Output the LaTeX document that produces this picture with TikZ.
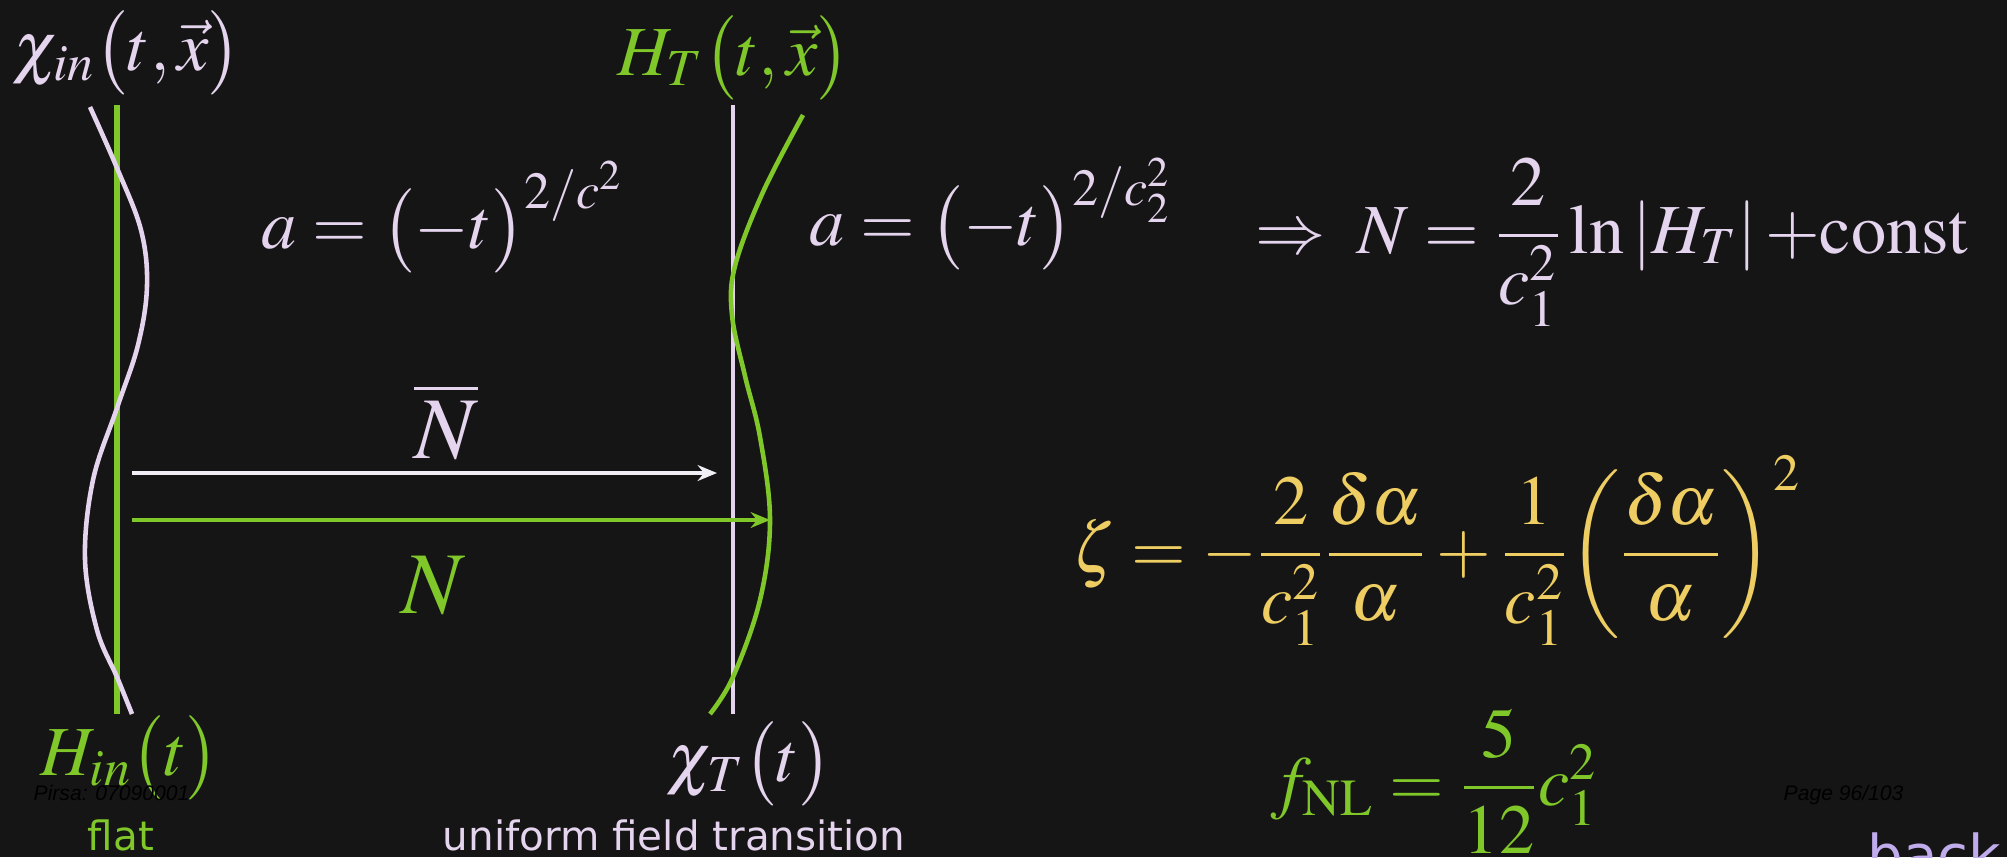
\documentclass[tikz,border=0pt]{standalone}
\usepackage{amsmath}
\usepackage{mathptmx}
\usepackage[no-math]{fontspec}
\newfontfamily\dejavu{DejaVu Sans}
\newfontfamily\arialish{Liberation Sans}
\usetikzlibrary{arrows.meta,positioning}
\usepackage{xcolor}
\definecolor{cSlate}{RGB}{22,21,21}
\definecolor{cLav}{RGB}{228,212,238}
\definecolor{cLime}{RGB}{128,200,42}
\definecolor{cGold}{RGB}{238,206,98}
\definecolor{cSnow}{RGB}{242,238,246}
\definecolor{cViolet}{RGB}{192,172,236}
\tikzset{
  eqbase/.style={inner sep=0pt,font=\fontsize{20}{24}\selectfont},
  laveq/.style={eqbase,text=cLav},
  limeeq/.style={eqbase,text=cLime},
  goldeq/.style={eqbase,text=cGold},
  fieldlbl/.style={inner sep=0pt,font=\fontsize{20}{24}\selectfont},
  bigeq/.style={inner sep=0pt,font=\fontsize{25}{30}\selectfont},
  captxt/.style={inner sep=0pt,font=\dejavu\fontsize{11.5}{14}\selectfont},
  stamp/.style={inner sep=0pt,font=\arialish\itshape\fontsize{6}{7}\selectfont,text=black},
  lavline/.style={color=cLav,line width=1.3pt},
  limeline/.style={color=cLime,line width=1.5pt},
  arr/.style={->,>={Stealth[length=5.5pt,width=4.5pt]},line width=0.9pt},
  whtarr/.style={arr,color=cSnow},
  grnarr/.style={arr,color=cLime}
}

\begin{document}
\begin{tikzpicture}[x=0.01cm,y=-0.01cm]
  \fill[cSlate] (0,0) rectangle (2007,857);
  \useasboundingbox (0,0) rectangle (2007,857);

  % the two slices
  \coordinate (lTop) at (117,105);
  \coordinate (lBot) at (117,714);
  \coordinate (rTop) at (733,105);
  \coordinate (rBot) at (733,714);
  \draw[limeline] (lTop) -- (lBot);
  \draw[lavline] plot[smooth,tension=0.6] coordinates
    {(90,107) (117,168) (141,230) (147,286) (138,345) (117,408)
     (93,480) (85,559) (97,630) (117,677) (132,714)};
  \draw[lavline] (rTop) -- (rBot);
  \draw[limeline,line width=1.3pt] plot[smooth,tension=0.6] coordinates
    {(803,115) (763,192) (735,266) (732,315) (745,376) (760,437)
     (770,520) (760,600) (733,677) (710,714)};

  % field labels
  \node[fieldlbl,text=cLav,anchor=base west] (chiin) at (12,70)
      {$\chi_{in}\bigl(t{,}\,\vec{x}\bigr)$};
  \node[fieldlbl,text=cLime,anchor=base west] (hT) at (617,75)
      {$H_T\bigl(t{,}\,\vec{x}\bigr)$};
  \node[fieldlbl,text=cLime,anchor=base west] (hin) at (40,775)
      {$H_{in}\bigl(t\bigr)$};
  \node[fieldlbl,text=cLav,anchor=base west] (chiT) at (666,781)
      {$\chi_T\bigl(t\bigr)$};
  \node[captxt,text=cLime,anchor=base] (flat) at (121,850) {flat};
  \node[captxt,text=cLav,anchor=base] (uft) at (674,850)
      {uniform field transition};

  % expansion laws
  \node[laveq,anchor=base west] (aIn) at (261,248)
      {$a=\bigl(-t\bigr)^{2/c^2}$};
  \node[laveq,anchor=base west] (aT) at (809,245)
      {$a=\bigl(-t\bigr)^{2/c_2^2}$};
  \node[laveq,anchor=base west] (nEq) at (1255,253)
      {$\Rightarrow\;N=\dfrac{2}{c_1^2}\ln\,\lvert H_T\rvert\,{+}\mathrm{const}$};

  % e-folds
  \coordinate (nbarL) at (132,473);
  \coordinate (nbarR) at (717,473);
  \coordinate (nL) at (132,520);
  \coordinate (nR) at (770,520);
  \draw[whtarr] (nbarL) -- (nbarR);
  \draw[grnarr] (nL) -- (nR);
  \node[bigeq,text=cLav,anchor=base] (nbar) at (446,458) {$\overline{N}$};
  \node[bigeq,text=cLime,anchor=base] (nlbl) at (433,613) {$N$};

  % curvature perturbation
  \node[goldeq,anchor=base west] (zeta) at (1072,572)
      {$\zeta=-\dfrac{2}{c_1^2}\dfrac{\delta\alpha}{\alpha}
        +\dfrac{1}{c_1^2}\biggl(\dfrac{\delta\alpha}{\alpha}\biggr)^{2}$};
  \node[limeeq,anchor=base west] (fnl) at (1270,805)
      {$f_{\mathrm{NL}}=\dfrac{5}{12}c_1^2$};

  % slide stamps
  \node[stamp,anchor=base west] (pirsa) at (33,800) {Pirsa: 07090001};
  \node[stamp,anchor=base west] (page) at (1783,800) {Page 96/103};
  \node[inner sep=0pt,font=\dejavu\fontsize{16}{19}\selectfont,text=cViolet,
        anchor=base west] (back) at (1867,875) {back};
\end{tikzpicture}
\end{document}
